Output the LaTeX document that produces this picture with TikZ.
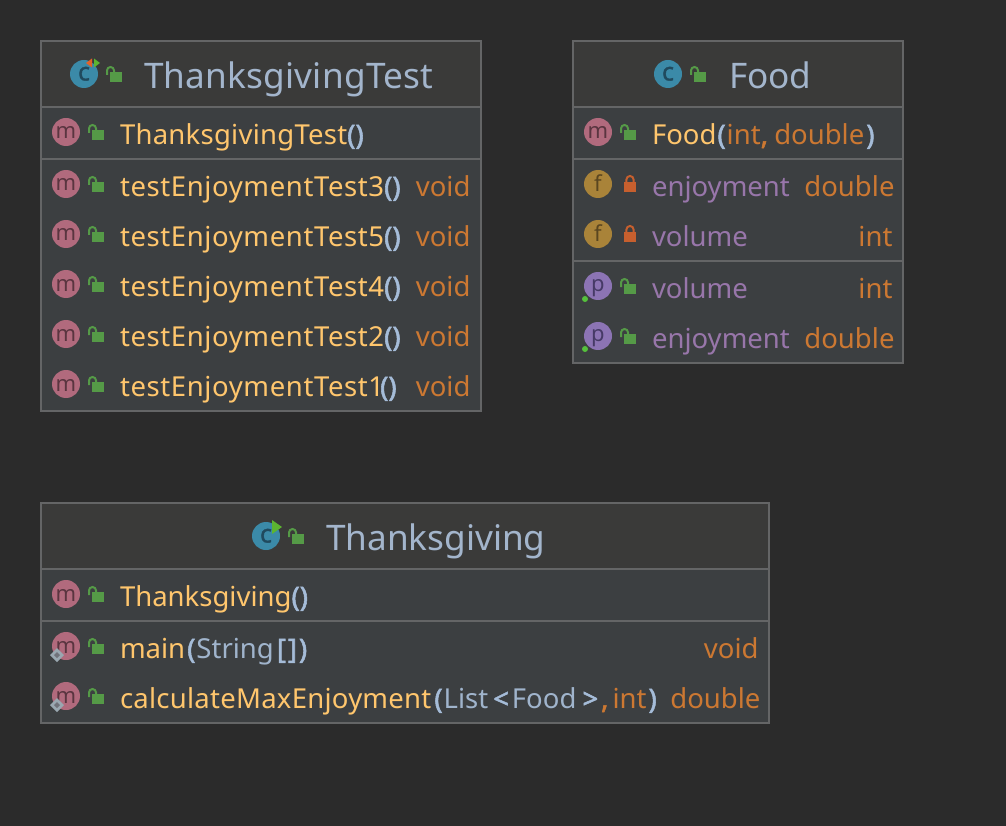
\documentclass[tikz,border=0pt]{standalone}
\usepackage{fontspec}
\setmainfont{Noto Sans}
\definecolor{bgc}{HTML}{2B2B2B}
\definecolor{headc}{HTML}{3A3A39}
\definecolor{bodyc}{HTML}{3C3F41}
\definecolor{linec}{HTML}{646566}
\definecolor{methc}{HTML}{FFC66D}
\definecolor{typec}{HTML}{CC7832}
\definecolor{plainc}{HTML}{A0B4CC}
\definecolor{parenc}{HTML}{A5BCD8}
\definecolor{titlec}{HTML}{A3B5CC}
\definecolor{fieldc}{HTML}{9876AA}
\definecolor{micon}{HTML}{B16A7D}
\definecolor{mlet}{HTML}{5A3540}
\definecolor{ficon}{HTML}{A98339}
\definecolor{flet}{HTML}{5A4620}
\definecolor{picon}{HTML}{8C74B4}
\definecolor{plet}{HTML}{463A66}
\definecolor{cicon}{HTML}{3B8AA8}
\definecolor{clet}{HTML}{204A5E}
\definecolor{lockg}{HTML}{559A47}
\definecolor{lockr}{HTML}{C65F2E}
\definecolor{dot}{HTML}{55C03C}
\definecolor{arrg}{HTML}{5CB531}
\definecolor{arro}{HTML}{E0622A}
\definecolor{diam}{HTML}{9AA7B0}
\definecolor{diamin}{HTML}{70727A}
\tikzset{
  x=1pt,y=-1pt,
  panel/.style={fill=bodyc,draw=linec,line width=1.4pt},
  head/.style={fill=headc},
  sep/.style={draw=linec,line width=2pt},
  txt/.style={anchor=base west,inner sep=0pt,outer sep=0pt,font=\fontsize{27.5}{30}\selectfont},
  ttl/.style={anchor=base west,inner sep=0pt,outer sep=0pt,text=titlec,font=\fontsize{35.2}{40}\selectfont},
  rtxt/.style={txt,anchor=base east,text=typec},
  badge/.style={circle,minimum size=28pt,inner sep=0pt,outer sep=0pt},
  letter/.style={anchor=base,inner sep=0pt,outer sep=0pt,font=\fontsize{22}{24}\selectfont},
  cletter/.style={anchor=base,inner sep=0pt,outer sep=0pt,font=\fontsize{25}{28}\selectfont\addfontfeature{FakeBold=1.5}},
}
\newcommand{\bb}{\addfontfeature{FakeBold=2}}
\newcommand{\cp}[1]{{\bb\textcolor{parenc}{#1}}}
\newcommand{\mn}[1]{\textcolor{methc}{#1}}
\newcommand{\tp}[1]{\textcolor{typec}{#1}}
\newcommand{\pl}[1]{\textcolor{plainc}{#1}}
\newcommand{\spc}[1]{\addfontfeature{LetterSpace=#1}}
% \ico{x}{y}{fill}{letter colour}{name}{letter}{baseline offset}
\newcommand{\ico}[7]{\node[badge,fill=#3] (#5) at (#1,#2) {};
  \node[letter,text=#4] (#5l) at (#1,#2+#7) {#6};}
\newcommand{\icoc}[3]{\node[badge,fill=cicon] (#3) at (#1,#2) {};
  \node[cletter,text=clet] (#3l) at (#1,#2+6.5) {c};}
\newcommand{\lockopen}[2]{%
  \fill[lockg] (#1-2,#2-2) rectangle (#1+10,#2+8);
  \draw[lockg,line width=2pt] (#1-5,#2+1) -- (#1-5,#2-3.5) arc[start angle=180,end angle=0,radius=3.5pt] -- (#1+2,#2-2);}
\newcommand{\lockshut}[2]{%
  \fill[lockr] (#1-6,#2-2) rectangle (#1+6,#2+8);
  \draw[lockr,line width=2pt] (#1-3.6,#2-2) -- (#1-3.6,#2-4.4) arc[start angle=180,end angle=0,radius=3.6pt] -- (#1+3.6,#2-2);}
\newcommand{\diamondmark}[2]{\fill[diam] (#1,#2-7) -- (#1+7,#2) -- (#1,#2+7) -- (#1-7,#2) -- cycle;
  \fill[diamin] (#1,#2-3) -- (#1+3,#2) -- (#1,#2+3) -- (#1-3,#2) -- cycle;}
\begin{document}
\begin{tikzpicture}
\useasboundingbox (0,0) rectangle (1006,826);
\fill[bgc] (0,0) rectangle (1006,826);
% ---------- ThanksgivingTest
\draw[panel] (41,41) rectangle (481,411);
\fill[head] (41.7,41.7) rectangle (480.3,107);
\draw[sep] (41,107) -- (481,107);
\draw[sep] (41,159) -- (481,159);
\icoc{84}{74}{c1}
\fill[arro] (92,58.5) -- (92,67.5) -- (86,63) -- cycle;
\fill[arrg] (94,58.5) -- (100,63) -- (94,67.5) -- cycle;
\lockopen{112}{74}
\node[ttl] (t1) at (144,88.5) {\spc{0.6}ThanksgivingTest};
\ico{66}{132}{micon}{mlet}{m0}{m}{7}
\lockopen{94}{132}
\node[txt] (t1a) at (120,144.5) {{\spc{0.9}\mn{ThanksgivingTest}}\cp{()}};
\foreach \yy/\nn/\kk in {186/3/0,236/5/0,286/4/0,336/2/0,386/1/-4}{
  \ico{66}{\yy-2}{micon}{mlet}{m\nn}{m}{7}
  \lockopen{94}{\yy-2}
  \node[txt] (tm\nn) at (120,\yy+10.5) {{\spc{2.2}\mn{testEnjoymentTest\nn}}\kern\kk pt\cp{()}};
  \node[rtxt] (vm\nn) at (470.5,\yy+10.5) {void};
}
% ---------- Food
\draw[panel] (573,41) rectangle (903,363);
\fill[head] (573.7,41.7) rectangle (902.3,107);
\draw[sep] (573,107) -- (903,107);
\draw[sep] (573,159) -- (903,159);
\draw[sep] (573,261) -- (903,261);
\icoc{668}{74}{c2}
\lockopen{696}{74}
\node[ttl] (t2) at (729,88.5) {Food};
\ico{598}{132}{micon}{mlet}{n0}{m}{7}
\lockopen{626}{132}
\node[txt] (f0) at (652,144.5) {\mn{Food}\kern1pt\cp{(}\kern1pt\tp{int{\bb,}\kern-1pt\ double}\kern2pt\cp{)}};
\ico{598}{184}{ficon}{flet}{f1}{f}{7.5}
\lockshut{630}{184}
\node[txt,text=fieldc] (f1a) at (652,196.5) {enjoyment};
\node[rtxt] (f1b) at (894.5,196.5) {double};
\ico{598}{234}{ficon}{flet}{f2}{f}{7.5}
\lockshut{630}{234}
\node[txt,text=fieldc] (f2a) at (652,246.5) {volume};
\node[rtxt] (f2b) at (892.5,246.5) {int};
\ico{598}{286}{picon}{plet}{p1}{p}{5}
\fill[dot] (585,299) circle (3pt);
\lockopen{626}{286}
\node[txt,text=fieldc] (p1a) at (652,298.5) {volume};
\node[rtxt] (p1b) at (892.5,298.5) {int};
\ico{598}{336}{picon}{plet}{p2}{p}{5}
\fill[dot] (585,349) circle (3pt);
\lockopen{626}{336}
\node[txt,text=fieldc] (p2a) at (652,348.5) {enjoyment};
\node[rtxt] (p2b) at (894.5,348.5) {double};
% ---------- Thanksgiving
\draw[panel] (41,503) rectangle (769,723);
\fill[head] (41.7,503.7) rectangle (768.3,569);
\draw[sep] (41,569) -- (769,569);
\draw[sep] (41,621) -- (769,621);
\icoc{266}{536}{c3}
\fill[arrg] (272,520) -- (282,527) -- (272,534) -- cycle;
\lockopen{294}{536}
\node[ttl] (t3) at (326,550.5) {Thanksgiving};
\ico{66}{594}{micon}{mlet}{g0m}{m}{7}
\lockopen{94}{594}
\node[txt] (g0) at (120,606.5) {\mn{Thanksgiving}\cp{()}};
\ico{66}{646}{micon}{mlet}{g1m}{m}{7}
\diamondmark{57}{655}
\lockopen{94}{646}
\node[txt] (g1a) at (120,658.5) {\mn{main}\kern2pt\cp{(}\kern1pt\pl{String}\kern3pt\cp{[\kern2pt]}\kern2pt\cp{)}};
\node[rtxt] (g1b) at (758.5,658.5) {void};
\ico{66}{696}{micon}{mlet}{g2m}{m}{7}
\diamondmark{57}{705}
\lockopen{94}{696}
\node[txt] (g2a) at (120,708.5) {{\spc{0.9}\mn{calculateMaxEnjoyment}}\kern3pt\cp{(}\kern1pt\pl{List}\kern5pt\cp{<}\kern3pt\pl{Food}\kern6pt\cp{>}\kern3pt\tp{{\bb,}}\kern4pt\tp{int}\kern2pt\cp{)}};
\node[rtxt] (g2b) at (760.5,708.5) {double};
\end{tikzpicture}
\end{document}
